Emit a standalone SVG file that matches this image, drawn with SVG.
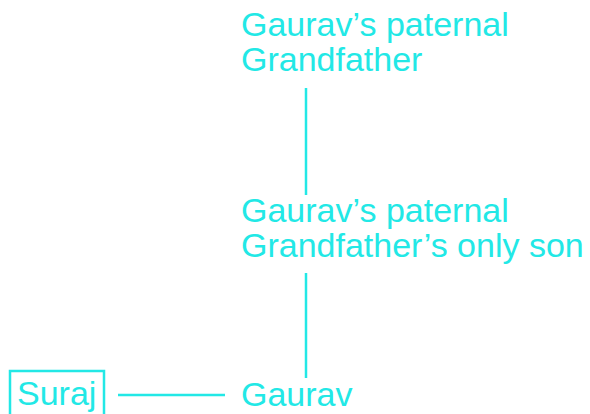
<svg xmlns="http://www.w3.org/2000/svg" width="590" height="414" viewBox="0 0 590 414">
<style>
text{font-family:"Liberation Sans",Arial,sans-serif;font-size:34px;fill:#22e8e6}
.ln{stroke:#22e8e6;stroke-width:2.5;fill:none}
</style>
<rect width="590" height="414" fill="#fff"/>
<g id="grandfather">
<text x="241" y="36">Gaurav’s paternal</text>
<text x="241" y="71">Grandfather</text>
</g>
<g id="son">
<text x="241" y="222">Gaurav’s paternal</text>
<text x="241" y="257">Grandfather’s only son</text>
</g>
<g id="gaurav">
<text x="241" y="406">Gaurav</text>
</g>
<g id="suraj">
<rect class="ln" x="10" y="371" width="94" height="45"/>
<text x="17" y="405">Suraj</text>
</g>
<g id="connectors">
<line class="ln" x1="306" y1="88" x2="306" y2="195"/>
<line class="ln" x1="306" y1="273" x2="306" y2="378"/>
<line class="ln" x1="118" y1="395" x2="225" y2="395"/>
</g>
</svg>
